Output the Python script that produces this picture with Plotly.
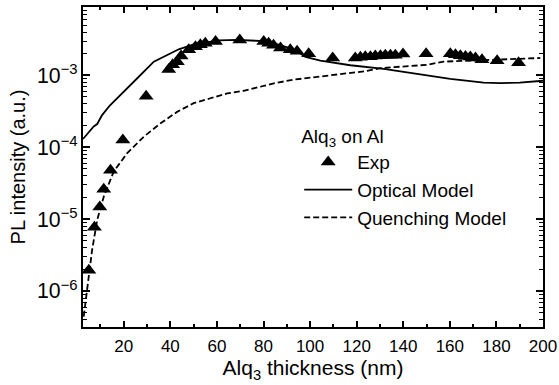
import plotly.graph_objects as go

# Experimental PL data
exp_x = [5, 7.4, 9.7, 11.4, 14.3, 19.6, 29.6, 39.3, 41, 43, 44.6, 47.9, 50.8, 52.9, 55, 59.4,
         69.8, 80.1, 82.2, 84.3, 87.3, 91.5, 94.4, 99.4, 109.7, 119.4, 121.6, 123.7, 125.9,
         128, 130.2, 132.3, 134.5, 136.6, 139.9, 149.8, 160.2, 162.4, 164.5, 166.7, 168.8,
         171, 173.8, 180.3, 189.5]
exp_y = [1.95e-6, 7.7e-6, 1.48e-5, 2.6e-5, 4.8e-5, 1.26e-4, 5.1e-4, 1.2e-3, 1.4e-3, 1.55e-3,
         1.85e-3, 2.26e-3, 2.5e-3, 2.66e-3, 2.8e-3, 2.95e-3, 3.1e-3, 2.95e-3, 2.8e-3, 2.62e-3,
         2.4e-3, 2.26e-3, 2.16e-3, 2.0e-3, 1.74e-3, 1.74e-3, 1.78e-3, 1.81e-3, 1.81e-3,
         1.85e-3, 1.87e-3, 1.9e-3, 1.9e-3, 1.9e-3, 1.98e-3, 2.0e-3, 2.0e-3, 1.93e-3, 1.87e-3,
         1.83e-3, 1.8e-3, 1.74e-3, 1.65e-3, 1.6e-3, 1.5e-3]

# Optical model
opt_x = [2.5, 5, 7.1, 8.6, 10.7, 14, 18.6, 25.8, 32.9, 37.2, 43.6, 50, 60.9, 68.7, 78.7, 86,
         93, 98, 104.4, 117.3, 131.6, 145.9, 160.2, 174.5, 181.7, 190, 200]
opt_y = [1.3e-4, 1.6e-4, 1.94e-4, 2.1e-4, 2.8e-4, 3.8e-4, 5.4e-4, 9.1e-4, 1.55e-3, 1.82e-3,
         2.3e-3, 2.7e-3, 3.06e-3, 3.12e-3, 3.0e-3, 2.7e-3, 2.3e-3, 1.8e-3, 1.6e-3, 1.38e-3,
         1.23e-3, 1.05e-3, 8.9e-4, 7.9e-4, 7.8e-4, 7.9e-4, 8.4e-4]

# Quenching model
q_x = [2.8, 4.3, 6.4, 8.6, 11.4, 15.7, 21.5, 28.6, 35.8, 42.9, 50, 57.2, 64.4, 71.5, 78.7,
       85.8, 93, 100, 110, 124.5, 130.2, 138.8, 150.2, 157.3, 167.4, 181.7, 198.8]
q_y = [4.4e-7, 1e-6, 3.7e-6, 9.8e-6, 2.05e-5, 4.6e-5, 8.3e-5, 1.4e-4, 2.15e-4, 3.1e-4,
       4.1e-4, 4.8e-4, 5.6e-4, 6.1e-4, 7e-4, 7.9e-4, 8.7e-4, 9.3e-4, 1.02e-3, 1.15e-3,
       1.26e-3, 1.33e-3, 1.4e-3, 1.55e-3, 1.6e-3, 1.68e-3, 1.74e-3]

# log-axis minor tick positions (2..9 x each decade)
y_minor = [m * 10.0 ** e for e in range(-7, -1) for m in range(2, 10)]

FONT = "Arial, Liberation Sans, sans-serif"
Y_RANGE = [-6.5, -2.05]

fig = go.Figure()
fig.add_trace(go.Scatter(x=exp_x, y=exp_y, mode="markers", name="Exp",
                         marker=dict(symbol="triangle-up", size=13, color="black")))
fig.add_trace(go.Scatter(x=opt_x, y=opt_y, mode="lines", name="Optical Model",
                         line=dict(color="black", width=1.8)))
fig.add_trace(go.Scatter(x=q_x, y=q_y, mode="lines", name="Quenching Model",
                         line=dict(color="black", width=1.8, dash="6px,3px")))
# empty trace so the minor-tick overlay axis is drawn
fig.add_trace(go.Scatter(x=[], y=[], yaxis="y2", showlegend=False, hoverinfo="skip"))

fig.update_layout(
    width=559, height=385,
    margin=dict(l=83, r=16, t=7, b=58, autoexpand=False),
    paper_bgcolor="white", plot_bgcolor="white",
    font=dict(family=FONT, color="black", size=17),
    showlegend=True,
    legend=dict(x=0.47, y=0.652, xanchor="left", yanchor="top",
                bgcolor="rgba(0,0,0,0)", font=dict(size=19), itemwidth=48,
                title=dict(text="Alq<sub>3</sub> on Al", font=dict(size=19))),
    yaxis2=dict(type="log", range=Y_RANGE, overlaying="y", side="left", anchor="x",
                tickmode="array", tickvals=y_minor, ticktext=[""] * len(y_minor),
                ticks="inside", ticklen=4, tickwidth=1.2, tickcolor="black",
                showline=True, linewidth=2, linecolor="black", mirror="ticks",
                showgrid=False, zeroline=False, automargin=False, showticklabels=False),
)
fig.update_xaxes(
    range=[2.5, 200], tickmode="linear", tick0=0, dtick=20, automargin=False,
    showline=True, linewidth=2, linecolor="black", mirror="ticks",
    ticks="inside", ticklen=6, tickwidth=1.5, tickcolor="black", ticklabelstandoff=3,
    showgrid=False, zeroline=False, tickfont=dict(size=17),
    minor=dict(ticks="inside", ticklen=3, dtick=10, tickcolor="black", showgrid=False),
    title=dict(text="Alq<sub>3</sub> thickness (nm)", font=dict(size=21), standoff=2),
)
fig.update_layout(yaxis=dict(
    type="log", range=Y_RANGE, dtick=1, exponentformat="power", automargin=False,
    showline=True, linewidth=2, linecolor="black", mirror="ticks",
    ticks="inside", ticklen=7, tickwidth=1.5, tickcolor="black",
    showgrid=False, zeroline=False, tickfont=dict(size=17),
    title=dict(text="PL intensity (a.u.)", font=dict(size=20), standoff=6),
))

fig.write_html("out.html", config={"displayModeBar": False},
               post_script="document.body.style.margin='0';")
